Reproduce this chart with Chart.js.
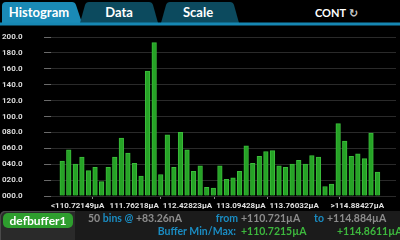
<!DOCTYPE html>
<html><head><meta charset="utf-8">
<script src="https://cdn.jsdelivr.net/npm/chart.js@4.4.1/dist/chart.umd.min.js"></script>
<style>
html,body{margin:0;padding:0;background:#000;}
#wrap{position:relative;width:400px;height:240px;overflow:hidden;background:#000;font-family:Lato,'Open Sans',sans-serif;font-weight:bold;}
#c{position:absolute;left:0;top:0;}
svg{position:absolute;left:0;top:0;}
.t{position:absolute;white-space:nowrap;font-size:10.5px;line-height:12px;}
.r{text-align:right;}
.g{color:#8c8c8c}.b{color:#1a8cc2}.gr{color:#3db83d}
#lp{position:absolute;left:0;top:211px;width:75px;height:29px;background:#2a2a2a;border-top-left-radius:5px;box-shadow:inset 1px 1px 0 #4a4a4a;}
#rp{position:absolute;left:75px;top:211px;width:325px;height:29px;background:#1b1b1b;}
#badge{position:absolute;left:3px;top:213px;width:70px;height:15px;background:#2e9e2e;border-radius:5px;color:#fff;font-size:12px;line-height:15px;text-align:center;}
</style></head>
<body><div id="wrap">
<svg width="400" height="30">
 <path d="M2,23 L2,6 Q2,2 6,2 L72,2 Q75,2 76,5 L82,23 Z" fill="#1a8ab6"/>
 <path d="M80,23 L85,5 Q86,2 89,2 L149,2 Q152,2 153,5 L158,23 Z" fill="#0c4a5e"/>
 <path d="M161,23 L166,5 Q167,2 170,2 L230,2 Q233,2 234,5 L239,23 Z" fill="#0c4a5e"/>
 <rect x="0" y="22.5" width="400" height="3" fill="#1687b3"/>
 <g font-family="Lato, 'Open Sans', sans-serif" font-weight="bold" fill="#fff">
  <text x="39" y="17" font-size="13" text-anchor="middle">Histogram</text>
  <text x="119" y="17" font-size="13" text-anchor="middle">Data</text>
  <text x="198" y="17" font-size="13" text-anchor="middle">Scale</text>
  <text x="315" y="16.5" font-size="11">CONT</text>
  <text x="349" y="16.5" font-size="11" fill="#ccc" font-family="DejaVu Sans">↻</text>
 </g>
</svg>
<canvas id="c" width="400" height="240"></canvas>
<div id="lp"></div><div id="rp"></div>
<div id="badge">defbuffer1</div>
<div class="t" style="left:88px;top:212px"><span class="g">50</span> <span class="b">bins @</span> <span class="g">+83.26nA</span></div>
<div class="t b r" style="left:188px;width:50px;top:212px">from</div>
<div class="t g" style="left:241px;top:212px">+110.721µA</div>
<div class="t b r" style="left:274px;width:50px;top:212px">to</div>
<div class="t g" style="left:327px;top:212px">+114.884µA</div>
<div class="t b r" style="left:136px;width:100px;top:225px">Buffer Min/Max:</div>
<div class="t gr" style="left:241px;top:225px">+110.7215µA</div>
<div class="t gr" style="left:337px;top:225px">+114.8611µA</div>
</div>
<script>
const binCounts = [44,58,40,49,32,36,18,36,49,73,54,41,25,157,193,27,77,36,80,58,31,38,11,10,38,21,23,31,63,41,50,56,57,38,36,40,45,40,51,49,12,15,91,69,50,53,47,79,30];
const firstBinCenter = 110.86149;
const binStep = 0.08213;
const xTickValues = [110.72149, 111.76218, 112.42823, 113.09428, 113.76032, 114.88427];
const xTickLabels = ['<110.72149µA','111.76218µA','112.42823µA','113.09428µA','113.76032µA','>114.88427µA'];
const xMin = 110.72149, xMax = 115.034;
const yMin = 0, yMax = 200, yStep = 20;

const points = binCounts.map((c, i) => ({x: firstBinCenter + i * binStep, y: c}));

new Chart(document.getElementById('c'), {
  type: 'bar',
  data: { datasets: [{
    data: points,
    barThickness: 4.6,
    backgroundColor: '#26a326',
    borderColor: '#3bbd3b',
    borderWidth: 1
  }]},
  options: {
    responsive: false, animation: false, devicePixelRatio: 1,
    layout: { padding: { top: 37, right: 4, left: 2, bottom: 0 } },
    plugins: { legend: {display: false}, tooltip: {enabled: false} },
    scales: {
      x: {
        type: 'linear', min: xMin, max: xMax, offset: false,
        afterBuildTicks(s) { s.ticks = xTickValues.map(v => ({value: v})); },
        afterFit(s) { s.height = 44; s.paddingLeft = 0; s.paddingRight = 0; },
        ticks: { autoSkip: false, maxRotation: 0, align: 'inner', padding: 2, color: '#e0e0e0',
          font: {family: 'Roboto', size: 8, weight: 'bold'},
          callback: (v, i) => xTickLabels[i] },
        grid: { drawOnChartArea: false, drawTicks: true, tickLength: 3, tickColor: '#888' },
        border: { display: false }
      },
      y: {
        min: yMin, max: yMax,
        afterFit(s) { s.width = 49; s.paddingTop = 0; s.paddingBottom = 0; },
        ticks: { stepSize: yStep, crossAlign: 'far', padding: 0, color: '#dcdcdc',
          font: {family: 'Roboto', size: 8, weight: 'bold'},
          callback: v => v.toFixed(1).padStart(5, '0') },
        grid: { color: '#2a2a2a', tickColor: '#6a6a6a', tickLength: 7 },
        border: { display: false }
      }
    }
  }
});
</script>
</body></html>
